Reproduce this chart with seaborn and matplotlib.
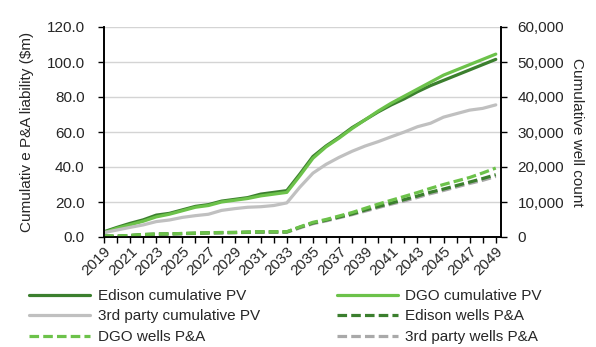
import matplotlib
matplotlib.use("Agg")
import matplotlib.pyplot as plt
import seaborn as sns
import pandas as pd
from matplotlib.ticker import FuncFormatter

years = list(range(2019, 2050))

edison_pv = [3.0, 5.5, 7.8, 9.8, 12.5, 13.5, 15.5, 17.5, 18.5, 20.5, 21.5, 22.5, 24.5, 25.5, 26.5,
             36.0, 46.0, 52.0, 57.0, 62.5, 67.0, 71.5, 75.5, 79.0, 83.0, 86.5, 89.5, 92.5, 95.5, 98.5, 101.5]
dgo_pv = [2.5, 5.0, 7.0, 9.0, 11.5, 13.0, 15.0, 17.0, 18.0, 20.0, 21.0, 22.0, 23.5, 24.5, 25.5,
          35.0, 45.0, 51.5, 56.5, 62.0, 67.0, 72.0, 76.5, 80.5, 84.5, 88.5, 92.5, 95.5, 98.5, 101.5, 104.5]
third_pv = [2.5, 4.0, 5.5, 6.9, 8.8, 9.7, 11.2, 12.2, 13.0, 15.2, 16.2, 17.0, 17.3, 18.0, 19.5,
            28.5, 36.5, 41.5, 45.5, 49.0, 52.0, 54.5, 57.3, 60.0, 63.0, 65.0, 68.5, 70.5, 72.5, 73.5, 75.5]

edison_wells = [300, 250, 450, 700, 850, 900, 1000, 1100, 1200, 1250, 1300, 1400, 1450, 1450, 1450,
                2800, 4000, 4800, 5700, 6600, 7700, 8700, 9700, 10700, 11700, 12800, 13700, 14700, 15700, 16700, 17800]
dgo_wells = [300, 250, 450, 700, 850, 900, 1000, 1100, 1200, 1300, 1300, 1400, 1500, 1500, 1500,
             2900, 4200, 5000, 6000, 7000, 8200, 9400, 10500, 11600, 12700, 13900, 15000, 16000, 17000, 18300, 19700]
third_wells = [200, 100, 350, 600, 750, 800, 900, 1000, 1100, 1150, 1200, 1300, 1350, 1350, 1350,
               2600, 3800, 4600, 5500, 6400, 7400, 8400, 9400, 10300, 11300, 12400, 13300, 14300, 15300, 16200, 17300]

left_ticks = [0, 20, 40, 60, 80, 100, 120]
right_ticks = [0, 10000, 20000, 30000, 40000, 50000, 60000]

dark_green = "#3b7f2e"
light_green = "#6cc24a"
gray_solid = "#c0c0c0"
gray_dash = "#a9a9a9"

sns.set_theme(style="white")
plt.rcParams['font.family'] = ['Liberation Sans', 'DejaVu Sans']
FS = 11

df = pd.DataFrame({"year": years, "edison_pv": edison_pv, "dgo_pv": dgo_pv, "third_pv": third_pv,
                   "edison_wells": edison_wells, "dgo_wells": dgo_wells, "third_wells": third_wells})

fig = plt.figure(figsize=(5.96, 3.47), dpi=100)
ax = fig.add_axes([104/596, 1-237/347, (501-104)/596, 210/347])
ax2 = ax.twinx()

lw = 2.3
sns.lineplot(data=df, x="year", y="edison_pv", ax=ax, color=dark_green, lw=lw, label="Edison cumulative PV", legend=False)
sns.lineplot(data=df, x="year", y="dgo_pv", ax=ax, color=light_green, lw=lw, label="DGO cumulative PV", legend=False)
sns.lineplot(data=df, x="year", y="third_pv", ax=ax, color=gray_solid, lw=lw, label="3rd party cumulative PV", legend=False)

dash = (3.0, 1.3)
sns.lineplot(data=df, x="year", y="third_wells", ax=ax2, color=gray_dash, lw=lw, label="3rd party wells P&A", legend=False)
sns.lineplot(data=df, x="year", y="edison_wells", ax=ax2, color=dark_green, lw=lw, label="Edison wells P&A", legend=False)
sns.lineplot(data=df, x="year", y="dgo_wells", ax=ax2, color=light_green, lw=lw, label="DGO wells P&A", legend=False)
for ln in ax2.get_lines():
    ln.set_dashes(dash)

ax.set_xlim(2019, 2049.4)
ax.set_ylim(0, 120)
ax2.set_ylim(0, 60000)
ax.set_yticks(left_ticks)
ax2.set_yticks(right_ticks)
ax.yaxis.set_major_formatter(FuncFormatter(lambda v, p: f"{v:.1f}"))
ax2.yaxis.set_major_formatter(FuncFormatter(lambda v, p: f"{int(v):,}"))
ax.set_xticks(years)
ax.set_xticklabels([str(y) if (y - 2019) % 2 == 0 else "" for y in years],
                   rotation=45, ha="right", va="top", rotation_mode="anchor", fontsize=FS)
ax.tick_params(axis="x", length=4, width=1, color="black", pad=1, bottom=True, direction="out")
ax.tick_params(axis="y", length=4, width=1, color="black", labelsize=FS, left=True, pad=10, direction="out")
ax2.tick_params(axis="y", length=4, width=1, color="black", labelsize=FS, right=True, pad=8, direction="out")

ax.grid(axis="y", color="#d4d4d4", lw=1)
ax.grid(axis="x", visible=False)
ax2.grid(False)
ax.set_axisbelow(True)

for a in (ax, ax2):
    for s in ("left", "right", "bottom"):
        a.spines[s].set_color("black")
        a.spines[s].set_linewidth(1.2)
    a.spines["top"].set_visible(False)

ax.set_xlabel("")
ax.set_ylabel("Cumulativ e P&A liability ($m)", fontsize=FS, labelpad=9)
ax2.set_ylabel("Cumulative well count", fontsize=FS, rotation=270, labelpad=14)

h1, lab1 = ax.get_legend_handles_labels()
h2, lab2 = ax2.get_legend_handles_labels()
hd = dict(zip(lab1 + lab2, h1 + h2))
order = ["Edison cumulative PV", "3rd party cumulative PV", "DGO wells P&A",
         "DGO cumulative PV", "Edison wells P&A", "3rd party wells P&A"]
fig.legend([hd[k] for k in order], order, ncol=2, loc="upper left",
           bbox_to_anchor=(0.044, 1 - 286/347), frameon=False, fontsize=FS,
           handlelength=4.0, handletextpad=0.5, labelspacing=0.42, columnspacing=5.0,
           borderaxespad=0, borderpad=0.2)

fig.savefig("out.png", dpi=100)
